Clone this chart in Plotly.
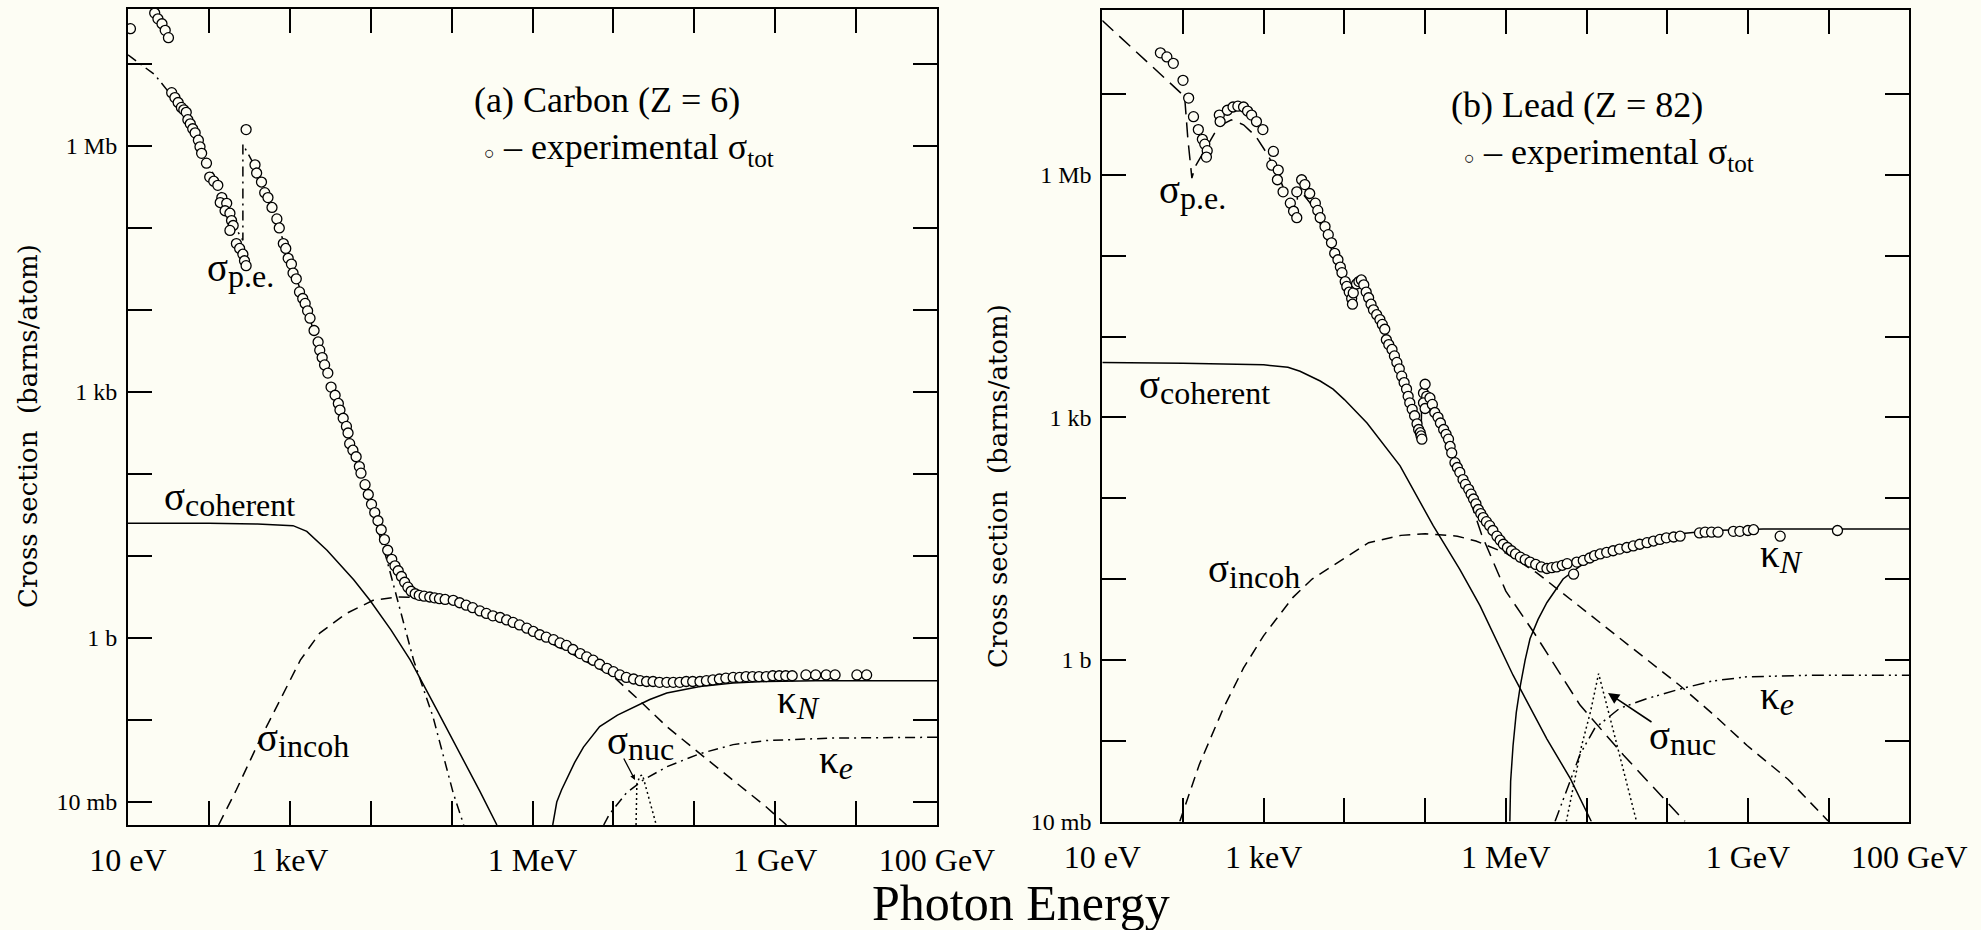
import numpy as np
import plotly.graph_objects as go

W, H = 1981, 930
BG = "#fdfdf4"

# ---------------- Carbon (Z = 6) : log10(E / eV), log10(sigma / barn) ----------------
C_exp_logE = [1.03, 1.33, 1.37, 1.42, 1.46, 1.50,
              1.54, 1.58, 1.62, 1.66, 1.69, 1.72, 1.74, 1.77, 1.80, 1.83, 1.87, 1.89, 1.91, 1.97, 2.01, 2.06,
              2.11, 2.16, 2.14, 2.22, 2.20, 2.26, 2.28, 2.30, 2.26, 2.34, 2.38, 2.42, 2.44, 2.46,
              2.46,
              2.57, 2.59, 2.65, 2.69, 2.73, 2.78, 2.84, 2.87, 2.92, 2.95, 2.98, 3.02, 3.04, 3.08, 3.12, 3.16,
              3.19, 3.22, 3.25, 3.30, 3.35, 3.37, 3.40, 3.43, 3.47, 3.51, 3.56, 3.60, 3.62, 3.66, 3.70, 3.72,
              3.74, 3.78, 3.82, 3.86, 3.88, 3.93, 3.97, 4.01, 4.05, 4.09, 4.13, 4.17, 4.21, 4.26, 4.30, 4.34,
              4.38, 4.42, 4.46, 4.50, 4.55, 4.60, 4.66, 4.73, 4.79, 4.85, 4.92, 5.02, 5.10, 5.18, 5.26, 5.35,
              5.43, 5.51, 5.60, 5.68, 5.76, 5.84, 5.93, 6.01, 6.09, 6.17, 6.26, 6.34, 6.42, 6.50, 6.59, 6.67,
              6.75, 6.83, 6.92, 7.00, 7.08, 7.16, 7.25, 7.33, 7.41, 7.49, 7.57, 7.66, 7.74, 7.82, 7.90, 7.98,
              8.07, 8.15, 8.23, 8.31, 8.39, 8.48, 8.56, 8.64, 8.72, 8.80, 8.89, 8.97, 9.05, 9.13, 9.21,
              9.38, 9.50, 9.63, 9.74, 10.01, 10.13]
C_exp_logS = [7.43, 7.62, 7.55, 7.49, 7.41, 7.32,
              6.65, 6.59, 6.53, 6.47, 6.44, 6.41, 6.32, 6.27, 6.21, 6.16, 6.07, 5.99, 5.91, 5.79, 5.62, 5.57,
              5.52, 5.37, 5.31, 5.30, 5.21, 5.18, 5.09, 5.03, 4.97, 4.81, 4.75, 4.68, 4.60, 4.54,
              6.20,
              5.77, 5.67, 5.56, 5.43, 5.37, 5.25, 5.11, 5.00, 4.81, 4.75, 4.63, 4.56, 4.45, 4.38, 4.22, 4.14,
              4.08, 3.99, 3.90, 3.75, 3.61, 3.51, 3.42, 3.33, 3.23, 3.06, 2.96, 2.86, 2.78, 2.68, 2.58, 2.50,
              2.37, 2.29, 2.21, 2.09, 2.01, 1.87, 1.75, 1.63, 1.53, 1.43, 1.32, 1.20, 1.07, 0.96, 0.88, 0.82,
              0.75, 0.68, 0.62, 0.57, 0.54, 0.52, 0.51, 0.50, 0.49, 0.48, 0.47, 0.46, 0.43, 0.40, 0.37, 0.33,
              0.30, 0.27, 0.25, 0.22, 0.19, 0.16, 0.12, 0.08, 0.04, 0.01, -0.02, -0.06, -0.09, -0.14, -0.19, -0.23,
              -0.27, -0.32, -0.37, -0.41, -0.45, -0.48, -0.50, -0.52, -0.53, -0.53, -0.54, -0.54, -0.54, -0.54, -0.53, -0.53,
              -0.53, -0.52, -0.51, -0.50, -0.49, -0.48, -0.48, -0.47, -0.47, -0.47, -0.47, -0.46, -0.46, -0.46, -0.46,
              -0.45, -0.45, -0.45, -0.45, -0.45, -0.45]

C_coh_logE = [1.0, 2.0, 2.6, 3.04, 3.21, 3.46, 3.79, 3.99, 4.25, 4.49, 4.82, 5.10, 5.35, 5.56]
C_coh_logS = [1.40, 1.40, 1.39, 1.37, 1.30, 1.07, 0.71, 0.46, 0.10, -0.27, -0.88, -1.40, -1.87, -2.28]

C_incoh_logE = [2.12, 2.34, 2.63, 2.88, 3.13, 3.37, 3.70, 4.03, 4.32, 4.70, 5.00, 5.50, 6.00, 6.50, 7.00, 7.32,
                7.66, 8.07, 8.48, 8.89, 9.14]
C_incoh_logS = [-2.28, -1.85, -1.24, -0.76, -0.27, 0.06, 0.30, 0.46, 0.50, 0.49, 0.43, 0.25, 0.05, -0.20, -0.47, -0.76,
                -1.08, -1.41, -1.73, -2.06, -2.28]

C_pe_logE = [1.0, 1.15, 1.33, 1.5, 1.7, 1.9, 2.1, 2.3, 2.42, 2.42, 2.57, 2.9, 3.2, 3.5, 3.8, 4.0, 4.2, 4.53,
             4.77, 5.02, 5.15]
C_pe_logS = [7.11, 7.00, 6.87, 6.66, 6.42, 6.00, 5.55, 5.05, 4.85, 6.02, 5.75, 4.90, 4.05, 3.08, 2.25, 1.62, 0.95,
             -0.27, -0.96, -1.89, -2.28]

C_kN_logE = [6.25, 6.30, 6.36, 6.42, 6.52, 6.63, 6.83, 7.05, 7.25, 7.45, 7.66, 8.07, 8.48, 8.89, 9.5, 11.0]
C_kN_logS = [-2.28, -2.00, -1.85, -1.73, -1.52, -1.33, -1.08, -0.94, -0.84, -0.75, -0.67, -0.59, -0.55, -0.53, -0.52, -0.52]

C_ke_logE = [6.88, 6.95, 7.16, 7.37, 7.66, 8.07, 8.48, 8.89, 9.71, 11.0]
C_ke_logS = [-2.28, -2.15, -1.89, -1.73, -1.57, -1.41, -1.30, -1.25, -1.22, -1.21]

C_nuc_logE = [7.28, 7.29, 7.33, 7.36, 7.53]
C_nuc_logS = [-2.28, -1.78, -1.68, -1.67, -2.28]

# ---------------- Lead (Z = 82) ----------------
Pb_exp_logE = [1.72, 1.80, 1.88, 2.00, 2.07, 2.13, 2.19, 2.24, 2.27, 2.30, 2.29,
               2.45, 2.46, 2.55, 2.62, 2.68, 2.75, 2.80, 2.85, 2.91, 2.99, 3.12, 3.10, 3.18, 3.17, 3.24, 3.33,
               3.37, 3.41,
               3.41, 3.47, 3.51, 3.57, 3.64, 3.67, 3.70, 3.76, 3.80, 3.84, 3.88, 3.92, 3.95, 3.97, 4.01, 4.03,
               4.06, 4.09, 4.10, 4.11, 4.15, 4.18, 4.21, 4.24, 4.27, 4.30, 4.33, 4.36, 4.40, 4.44, 4.47, 4.50,
               4.52, 4.55, 4.59, 4.62, 4.65, 4.68, 4.71, 4.74, 4.77, 4.79, 4.81, 4.84, 4.87, 4.90, 4.92, 4.94,
               4.95, 4.96,
               4.98, 5.00, 5.02, 4.98, 5.00,
               5.06, 5.09, 5.12, 5.16, 5.19, 5.23, 5.26, 5.29, 5.31, 5.33, 5.37, 5.40, 5.43, 5.47, 5.50, 5.54,
               5.57, 5.60, 5.63, 5.66, 5.69, 5.72, 5.76, 5.80, 5.84, 5.89, 5.93, 5.97, 6.02, 6.07, 6.12, 6.18,
               6.24, 6.30, 6.37, 6.44, 6.51, 6.57, 6.63, 6.70, 6.76, 6.84, 6.88, 6.96, 7.04, 7.10, 7.17, 7.25,
               7.33, 7.41, 7.50, 7.58, 7.66, 7.75, 7.83, 7.91, 7.99, 8.08, 8.16, 8.40, 8.47, 8.55, 8.63, 8.82,
               8.90, 9.00, 9.07, 9.40, 10.11]
Pb_exp_logS = [7.51, 7.46, 7.38, 7.17, 6.95, 6.72, 6.56, 6.44, 6.38, 6.30, 6.22,
               6.74, 6.66, 6.80, 6.84, 6.85, 6.84, 6.79, 6.74, 6.66, 6.56, 6.29, 6.12, 6.06, 5.94, 5.79, 5.65,
               5.55, 5.47,
               5.79, 5.94, 5.88, 5.77, 5.65, 5.56, 5.47, 5.36, 5.26, 5.16, 5.03, 4.95, 4.86, 4.79, 4.68, 4.62,
               4.55, 4.47, 4.40, 4.54, 4.65, 4.68, 4.70, 4.64, 4.55, 4.48, 4.40, 4.33, 4.27, 4.21, 4.15, 4.09,
               3.96, 3.90, 3.84, 3.76, 3.68, 3.60, 3.51, 3.43, 3.35, 3.26, 3.18, 3.10, 3.02, 2.92, 2.85, 2.81,
               2.77, 2.73,
               3.30, 3.41, 3.26, 3.18, 3.11,
               3.24, 3.16, 3.06, 3.00, 2.93, 2.85, 2.79, 2.73, 2.64, 2.56, 2.44, 2.38, 2.32, 2.23, 2.17, 2.11,
               2.05, 1.99, 1.93, 1.86, 1.81, 1.76, 1.71, 1.66, 1.60, 1.53, 1.48, 1.43, 1.39, 1.35, 1.31, 1.27,
               1.24, 1.21, 1.18, 1.15, 1.13, 1.14, 1.15, 1.17, 1.19, 1.06, 1.21, 1.23, 1.26, 1.29, 1.31, 1.33,
               1.35, 1.37, 1.39, 1.41, 1.43, 1.45, 1.47, 1.49, 1.51, 1.52, 1.53, 1.57, 1.58, 1.58, 1.58, 1.59,
               1.59, 1.60, 1.61, 1.53, 1.60]

Pb_coh_logE = [1.0, 2.0, 3.0, 3.3, 3.45, 3.7, 3.86, 4.0, 4.28, 4.69, 5.10, 5.43, 5.68, 6.09, 6.51, 6.80, 7.06]
Pb_coh_logS = [3.68, 3.67, 3.65, 3.62, 3.57, 3.45, 3.35, 3.22, 2.93, 2.40, 1.66, 1.12, 0.67, -0.19, -0.98, -1.47, -2.0]

Pb_incoh_logE = [1.96, 2.2, 2.5, 2.75, 3.0, 3.36, 3.6, 3.95, 4.3, 4.7, 5.0, 5.4, 5.63, 6.0, 6.38, 6.8, 7.2,
                 7.6, 8.16, 8.6, 8.99, 9.5, 10.0]
Pb_incoh_logS = [-2.0, -1.3, -0.6, -0.1, 0.3, 0.77, 1.0, 1.22, 1.45, 1.54, 1.56, 1.53, 1.47, 1.32, 1.08, 0.75, 0.44,
                 0.12, -0.32, -0.70, -1.06, -1.48, -2.0]

Pb_pe_logE = [1.0, 1.5, 2.02, 2.06, 2.11, 2.15, 2.3, 2.44, 2.6, 2.75, 2.9, 3.05, 3.2, 3.41, 3.42, 3.6, 3.9,
              4.09, 4.11, 4.21, 4.5, 4.8, 4.95, 4.96, 5.2, 5.5, 5.70, 6.0, 6.36, 6.92, 7.46, 8.22]
Pb_pe_logS = [7.91, 7.45, 6.97, 6.45, 5.96, 6.10, 6.35, 6.60, 6.68, 6.62, 6.48, 6.25, 5.95, 5.42, 5.85, 5.62, 4.95,
              4.42, 4.55, 4.65, 4.05, 3.25, 2.72, 3.38, 2.90, 2.15, 1.55, 0.85, 0.32, -0.56, -1.18, -2.0]

Pb_kN_logE = [6.05, 6.06, 6.09, 6.13, 6.18, 6.24, 6.30, 6.40, 6.51, 6.71, 6.92, 7.33, 7.74, 8.16, 8.57, 9.19, 10.0, 11.0]
Pb_kN_logS = [-2.0, -1.5, -1.06, -0.65, -0.32, 0.0, 0.26, 0.50, 0.71, 1.00, 1.16, 1.37, 1.49, 1.56, 1.60, 1.62, 1.62, 1.62]

Pb_ke_logE = [6.61, 6.92, 7.10, 7.41, 7.75, 8.16, 8.57, 8.99, 9.81, 11.0]
Pb_ke_logS = [-2.0, -1.17, -0.85, -0.60, -0.48, -0.36, -0.26, -0.21, -0.19, -0.19]

Pb_nuc_logE = [6.75, 6.94, 7.05, 7.15, 7.30, 7.45, 7.62]
Pb_nuc_logS = [-2.0, -1.06, -0.64, -0.17, -0.75, -1.33, -2.0]

# axis ticks
X_TICK_DECADES = list(range(1, 12))
X_TICK_TEXT = ["10 eV", "", "1 keV", "", "", "1 MeV", "", "", "1 GeV", "", "100 GeV"]
Y_LABELS = {-2: "10 mb", 0: "1 b", 3: "1 kb", 6: "1 Mb"}

assert len(C_exp_logE) == len(C_exp_logS)
assert len(Pb_exp_logE) == len(Pb_exp_logS)


def P(a):
    return np.power(10.0, np.asarray(a, dtype=float))


fig = go.Figure()

DASH = "11px,7px"
LONGDASH = "15px,8px"
DASHDOT = "10px,5px,2px,5px"
DASHDOTDOT = "12px,5px,2px,4px,2px,5px"
DOT = "2px,3px"


def line(lx, ly, dash, xa, ya, width=1.5):
    fig.add_trace(go.Scatter(x=P(lx), y=P(ly), mode="lines", xaxis=xa, yaxis=ya,
                             line=dict(color="black", width=width, dash=dash),
                             showlegend=False, hoverinfo="skip"))


def points(lx, ly, xa, ya):
    fig.add_trace(go.Scatter(x=P(lx), y=P(ly), mode="markers", xaxis=xa, yaxis=ya,
                             marker=dict(symbol="circle", size=10, color=BG,
                                         line=dict(color="black", width=1.3)),
                             showlegend=False, hoverinfo="skip"))


# Carbon
line(C_coh_logE, C_coh_logS, "solid", "x", "y")
line(C_incoh_logE, C_incoh_logS, DASH, "x", "y")
line(C_pe_logE, C_pe_logS, DASHDOT, "x", "y")
line(C_kN_logE, C_kN_logS, "solid", "x", "y")
line(C_ke_logE, C_ke_logS, DASHDOT, "x", "y")
line(C_nuc_logE, C_nuc_logS, DOT, "x", "y")
points(C_exp_logE, C_exp_logS, "x", "y")

# Lead
line(Pb_coh_logE, Pb_coh_logS, "solid", "x2", "y2")
line(Pb_incoh_logE, Pb_incoh_logS, DASH, "x2", "y2")
line(Pb_pe_logE, Pb_pe_logS, LONGDASH, "x2", "y2")
line(Pb_kN_logE, Pb_kN_logS, "solid", "x2", "y2")
line(Pb_ke_logE, Pb_ke_logS, DASHDOTDOT, "x2", "y2")
line(Pb_nuc_logE, Pb_nuc_logS, DOT, "x2", "y2")
points(Pb_exp_logE, Pb_exp_logS, "x2", "y2")

TICKFONT_X = dict(family="Liberation Serif", size=32, color="black")
TICKFONT_Y = dict(family="Liberation Serif", size=24, color="black")


def xaxis(dom):
    return dict(domain=dom, type="log", range=[1, 11], automargin=False,
                tickmode="array", tickvals=[10.0 ** k for k in X_TICK_DECADES], ticktext=X_TICK_TEXT,
                ticks="inside", ticklen=24, tickwidth=1.6, tickcolor="black",
                showline=True, linecolor="black", linewidth=2, mirror="ticks",
                showgrid=False, zeroline=False, tickfont=TICKFONT_X, ticklabelstandoff=6)


def yaxis(dom, rng, decades):
    return dict(domain=dom, type="log", range=rng, automargin=False,
                tickmode="array", tickvals=[10.0 ** k for k in decades],
                ticktext=[Y_LABELS.get(k, "") for k in decades],
                ticks="inside", ticklen=24, tickwidth=1.6, tickcolor="black",
                showline=True, linecolor="black", linewidth=2, mirror="ticks",
                showgrid=False, zeroline=False, tickfont=TICKFONT_Y, ticklabelstandoff=4)


fig.update_layout(
    width=W, height=H,
    margin=dict(l=0, r=0, t=0, b=0, autoexpand=False),
    paper_bgcolor=BG, plot_bgcolor=BG,
    showlegend=False,
    xaxis=dict(xaxis([128 / W, 937 / W]), anchor="y"),
    yaxis=dict(yaxis([1 - 825 / H, 1 - 9 / H], [-2.28, 7.67], list(range(-2, 8))), anchor="x"),
    xaxis2=dict(xaxis([1102.3 / W, 1909.3 / W]), anchor="y2"),
    yaxis2=dict(yaxis([1 - 821.5 / H, 1 - 10 / H], [-2.0, 8.04], list(range(-2, 8))), anchor="x2"),
)

FONT = "Liberation Serif"


def label(X, Y, text, size=30, xanchor="left", yanchor="middle", angle=0, family=FONT):
    fig.add_annotation(x=X / W, y=1 - Y / H, xref="paper", yref="paper", text=text,
                       showarrow=False, xanchor=xanchor, yanchor=yanchor, textangle=angle,
                       font=dict(family=family, size=size, color="black"))


def sig(sym, sub, italic=False):
    s = "<i>%s</i>" % sub if italic else sub
    return ('<span style="font-size:39px">%s</span><sub><span style="font-size:32px">%s</span></sub>'
            % (sym, s))


# Carbon panel texts
label(472, 100, "(a) Carbon (Z = 6)", size=36)
label(482, 150, '<span style="font-size:18px">○</span> – experimental σ<sub>tot</sub>', size=36)
label(205, 270, sig("σ", "p.e."))
label(162, 499, sig("σ", "coherent"))
label(255, 740, sig("σ", "incoh"))
label(605, 743, sig("σ", "nuc"))
label(775, 702, sig("κ", "N", True))
label(817, 762, sig("κ", "e", True))

# Lead panel texts
label(1449, 105, "(b) Lead (Z = 82)", size=36)
label(1462, 155, '<span style="font-size:18px">○</span> – experimental σ<sub>tot</sub>', size=36)
label(1157, 192, sig("σ", "p.e."))
label(1137, 387, sig("σ", "coherent"))
label(1206, 571, sig("σ", "incoh"))
label(1758, 556, sig("κ", "N", True))
label(1758, 698, sig("κ", "e", True))
label(1647, 738, sig("σ", "nuc"))

# arrows to sigma_nuc
fig.add_annotation(x=635 / W, y=1 - 780 / H, xref="paper", yref="paper", ax=-12, ay=-23,
                   showarrow=True, arrowhead=2, arrowsize=0.8, arrowwidth=1.3, arrowcolor="black", text="")
fig.add_annotation(x=1608 / W, y=1 - 693 / H, xref="paper", yref="paper", ax=45, ay=30,
                   showarrow=True, arrowhead=2, arrowsize=1.4, arrowwidth=1.6, arrowcolor="black", text="")

# axis titles
label(28, 426, "Cross section\u00a0 (barns/atom)", size=26, xanchor="center", angle=-90, family="DejaVu Serif")
label(998, 486, "Cross section\u00a0 (barns/atom)", size=26, xanchor="center", angle=-90, family="DejaVu Serif")
label(1021, 903, "Photon Energy", size=50, xanchor="center")

fig.write_html("out.html")
